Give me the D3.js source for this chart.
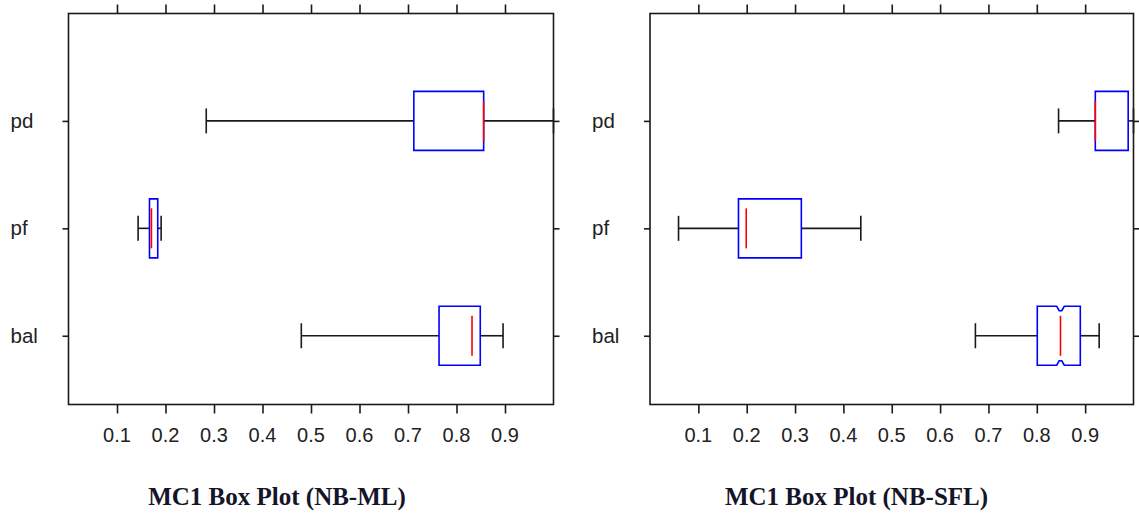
<!DOCTYPE html>
<html><head><meta charset="utf-8">
<script src="https://cdn.jsdelivr.net/npm/d3@7"></script>
<style>body{margin:0;background:#fff}svg{display:block}</style>
</head><body>
<svg id="c" width="1139" height="515"></svg>
<script>
// ---- data ----
const categories = ["pd", "pf", "bal"];
const xTickValues = [0.1, 0.2, 0.3, 0.4, 0.5, 0.6, 0.7, 0.8, 0.9];
const xTickLabels = ["0.1", "0.2", "0.3", "0.4", "0.5", "0.6", "0.7", "0.8", "0.9"];
const titles = ["MC1 Box Plot (NB-ML)", "MC1 Box Plot (NB-SFL)"];

// NB-ML (left)
const mlWhiskerLow  = [0.284, 0.1435, 0.480];
const mlQ1          = [0.712, 0.167, 0.764];
const mlMedian      = [0.856, 0.171, 0.832];
const mlQ3          = [0.856, 0.184, 0.849];
const mlWhiskerHigh = [1.000, 0.191, 0.896];
const mlNotch       = [0, 0, 0];

// NB-SFL (right)
const sflWhiskerLow  = [0.845, 0.059, 0.673];
const sflQ1          = [0.921, 0.183, 0.801];
const sflMedian      = [0.921, 0.199, 0.849];
const sflQ3          = [0.989, 0.313, 0.890];
const sflWhiskerHigh = [1.000, 0.436, 0.929];
const sflNotch       = [0, 0, 0.0078];

// ---- layout ----
const svg = d3.select("#c");
const plotTop = 13.5, plotBottom = 404.5;
const panels = [
  {x0: 68.5, x1: 553.5, labelX: 10.5, titleX: 277, title: titles[0],
   wl: mlWhiskerLow, q1: mlQ1, med: mlMedian, q3: mlQ3, wh: mlWhiskerHigh, notch: mlNotch},
  {x0: 650, x1: 1133.5, labelX: 592, titleX: 856.5, title: titles[1],
   wl: sflWhiskerLow, q1: sflQ1, med: sflMedian, q3: sflQ3, wh: sflWhiskerHigh, notch: sflNotch}
];
// category position: bal=1, pf=2, pd=3
const catPos = d3.scaleOrdinal().domain(categories).range([3, 2, 1]);
const y = d3.scaleLinear().domain([0.36, 4]).range([plotBottom, plotTop]);

const boxHalf = 29.5, medInset = 9.5, notchDepth = 4.5, capHalf = 12.5;
const lw = 1.6;

panels.forEach(p => {
  const x = d3.scaleLinear().domain([0, 1]).range([p.x0, p.x1]);
  const g = svg.append("g");

  const axT = d3.axisTop(x).tickValues(xTickValues).tickSize(9).tickFormat("");
  const gt = g.append("g").attr("transform", `translate(0,${plotTop})`).call(axT);
  const axB = d3.axisBottom(x).tickValues(xTickValues).tickSize(9).tickFormat("");
  const gb = g.append("g").attr("transform", `translate(0,${plotBottom})`).call(axB);
  const yTickVals = categories.map(c => catPos(c));
  const axL = d3.axisLeft(y).tickValues(yTickVals).tickSize(6).tickFormat("");
  const gl = g.append("g").attr("transform", `translate(${p.x0},0)`).call(axL);
  const axR = d3.axisRight(y).tickValues(yTickVals).tickSize(6).tickFormat("");
  const gr = g.append("g").attr("transform", `translate(${p.x1},0)`).call(axR);
  [gt, gb, gl, gr].forEach(a => {
    a.select(".domain").remove();
    a.selectAll(".tick line").attr("stroke", "#1a1a1a").attr("stroke-width", lw);
  });

  g.selectAll("text.xl").data(xTickValues).join("text")
    .attr("x", d => x(d)).attr("y", 442)
    .attr("text-anchor", "middle")
    .attr("font-family", "Liberation Sans, Arial, sans-serif")
    .attr("font-size", 20).attr("fill", "#222")
    .text((d, i) => xTickLabels[i]);

  g.selectAll("text.yl").data(categories).join("text")
    .attr("x", p.labelX).attr("y", d => y(catPos(d)) + 7)
    .attr("font-family", "Liberation Sans, Arial, sans-serif")
    .attr("font-size", 20.5).attr("fill", "#222")
    .text(d => d);

  categories.forEach((c, i) => {
    const cy = y(catPos(c));
    const t = cy - boxHalf, b = cy + boxHalf;
    g.append("line").attr("x1", x(p.wl[i])).attr("x2", x(p.q1[i])).attr("y1", cy).attr("y2", cy)
      .attr("stroke", "#1a1a1a").attr("stroke-width", lw);
    g.append("line").attr("x1", x(p.q3[i])).attr("x2", x(p.wh[i])).attr("y1", cy).attr("y2", cy)
      .attr("stroke", "#1a1a1a").attr("stroke-width", lw);
    [p.wl[i], p.wh[i]].forEach(v => {
      g.append("line").attr("x1", x(v)).attr("x2", x(v)).attr("y1", cy - capHalf).attr("y2", cy + capHalf)
        .attr("stroke", "#1a1a1a").attr("stroke-width", lw);
    });
    const n = p.notch[i];
    const path = d3.path();
    if (n > 0) {
      const xm = x(p.med[i]), hw = x(p.med[i] + n) - xm;
      path.moveTo(x(p.q1[i]), t);
      path.lineTo(xm - hw, t);
      path.lineTo(xm - hw * 0.35, t + notchDepth);
      path.lineTo(xm + hw * 0.35, t + notchDepth);
      path.lineTo(xm + hw, t);
      path.lineTo(x(p.q3[i]), t);
      path.lineTo(x(p.q3[i]), b);
      path.lineTo(xm + hw, b);
      path.lineTo(xm + hw * 0.35, b - notchDepth);
      path.lineTo(xm - hw * 0.35, b - notchDepth);
      path.lineTo(xm - hw, b);
      path.lineTo(x(p.q1[i]), b);
      path.closePath();
    } else {
      path.rect(x(p.q1[i]), t, x(p.q3[i]) - x(p.q1[i]), b - t);
    }
    g.append("path").attr("d", path.toString()).attr("fill", "#fff")
      .attr("stroke", "#0000ff").attr("stroke-width", lw);
    g.append("line").attr("x1", x(p.med[i])).attr("x2", x(p.med[i]))
      .attr("y1", t + medInset).attr("y2", b - medInset)
      .attr("stroke", "#ff0000").attr("stroke-width", lw);
  });

  g.append("rect").attr("x", p.x0).attr("y", plotTop)
    .attr("width", p.x1 - p.x0).attr("height", plotBottom - plotTop)
    .attr("fill", "none").attr("stroke", "#1a1a1a").attr("stroke-width", lw);

  g.append("text").attr("x", p.titleX).attr("y", 505)
    .attr("text-anchor", "middle")
    .attr("font-family", "Liberation Serif, Times New Roman, serif")
    .attr("font-weight", "bold").attr("font-size", 25).attr("fill", "#15152a")
    .text(p.title);
});
</script>
</body></html>
